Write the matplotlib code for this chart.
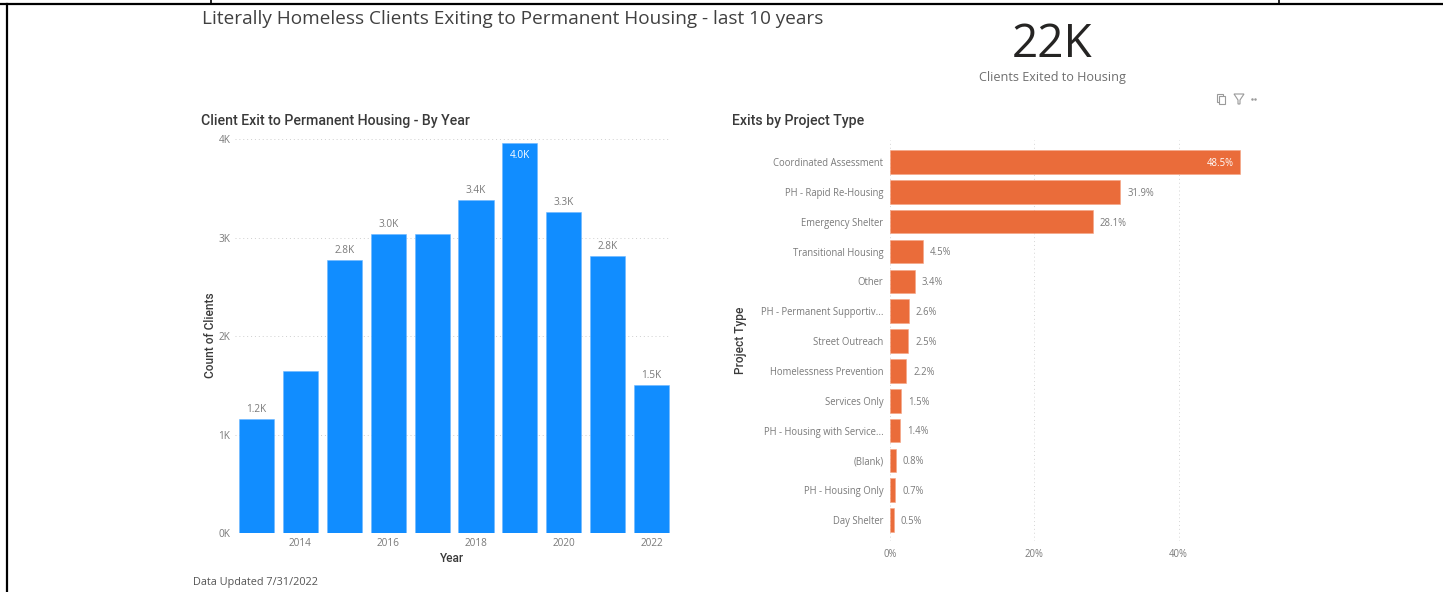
import matplotlib
matplotlib.use("Agg")
import matplotlib.pyplot as plt
from matplotlib.patches import Polygon, Rectangle

years = [2013, 2014, 2015, 2016, 2017, 2018, 2019, 2020, 2021, 2022]
clients = [1155, 1646, 2775, 3040, 3040, 3380, 3960, 3260, 2810, 1500]
year_labels = ["1.2K", "", "2.8K", "3.0K", "", "3.4K", "4.0K", "3.3K", "2.8K", "1.5K"]
year_ticks = [2014, 2016, 2018, 2020, 2022]
client_ticks = [0, 1000, 2000, 3000, 4000]
client_tick_labels = ["0K", "1K", "2K", "3K", "4K"]

projects = ["Coordinated Assessment", "PH - Rapid Re-Housing", "Emergency Shelter",
            "Transitional Housing", "Other", "PH - Permanent Supportiv...", "Street Outreach",
            "Homelessness Prevention", "Services Only", "PH - Housing with Service...",
            "(Blank)", "PH - Housing Only", "Day Shelter"]
shares = [48.5, 31.9, 28.1, 4.5, 3.4, 2.6, 2.5, 2.2, 1.5, 1.4, 0.8, 0.7, 0.5]
share_ticks = [0, 20, 40]

W, H = 1443, 592
BLUE = "#118DFF"
ORANGE = "#EA6C3A"
GREY = "#7a7a7a"
DARK = "#3a3a3a"
HEAD = ["Roboto", "DejaVu Sans"]

plt.rcParams["font.family"] = ["Open Sans", "DejaVu Sans"]


def px_axes(fig, left, top, right, bottom):
    return fig.add_axes([left / W, 1 - bottom / H, (right - left) / W, (bottom - top) / H])


fig = plt.figure(figsize=(W / 100, H / 100), dpi=100, facecolor="white")

# overlay in pixel coordinates for the frame and the little icons
bg = fig.add_axes([0, 0, 1, 1])
bg.set_xlim(0, W)
bg.set_ylim(H, 0)
bg.axis("off")
bg.plot([0, W], [4, 4], color="black", lw=1.6)
bg.plot([7, 7], [4, H], color="black", lw=1.6)
bg.plot([211, 211], [0, 4], color="black", lw=1.2)
bg.plot([1279, 1279], [0, 4], color="black", lw=1.2)
bg.add_patch(Rectangle((1217, 94), 6, 8, fill=False, ec="#9a9a9a", lw=0.8))
bg.add_patch(Rectangle((1219, 96), 6, 8, fc="white", ec="#9a9a9a", lw=0.8))
bg.add_patch(Polygon([(1234, 94), (1244, 94), (1240, 100), (1240, 104), (1238, 104), (1238, 100)],
                     fill=False, ec="#9a9a9a", lw=0.8))
bg.plot([1252, 1255], [98.5, 98.5], ls="none", marker="o", ms=0.8, color="#9a9a9a")

# bars by year
ax1 = px_axes(fig, 234.6, 120, 670, 533)
ax1.bar(years, clients, width=0.8, color=BLUE, edgecolor="#6db8ff", linewidth=0.4, zorder=3)
ax1.set_xlim(2012.5, 2022.42)
ax1.set_ylim(0, 4197)
ax1.set_yticks(client_ticks)
ax1.set_yticklabels(client_tick_labels)
ax1.set_xticks(year_ticks)
ax1.tick_params(length=0, labelsize=7.2, labelcolor=GREY)
ax1.tick_params(axis="x", pad=3.6)
ax1.tick_params(axis="y", pad=3)
ax1.grid(axis="y", color="#cfcfcf", lw=0.7, ls=(0, (1, 3)), zorder=0)
for s in ax1.spines.values():
    s.set_visible(False)
for y, c, lab in zip(years, clients, year_labels):
    if not lab:
        continue
    if c == max(clients):
        ax1.annotate(lab, (y, c), xytext=(0, -13), textcoords="offset points", ha="center",
                     va="bottom", fontsize=7.2, color="white", zorder=4)
    else:
        ax1.annotate(lab, (y, c), xytext=(0, 3), textcoords="offset points", ha="center",
                     va="bottom", fontsize=7.2, color=GREY, zorder=4)
ax1.set_xlabel("Year", fontsize=8.6, color=DARK, fontweight="medium", family=HEAD, labelpad=2.5)
ax1.set_ylabel("Count of Clients", fontsize=8.6, color=DARK, fontweight="medium", family=HEAD,
               labelpad=0.8, y=0.479)

# bars by project type
ax2 = px_axes(fig, 890.2, 140, 1260, 541)
ypos = list(range(len(projects)))
ax2.barh(ypos, shares, height=0.79, color=ORANGE, edgecolor="#f5a483", linewidth=0.4, zorder=3)
ax2.set_xlim(0, 51.3)
ax2.set_ylim(12.7, -0.737)
ax2.set_yticks(ypos)
ax2.set_yticklabels(projects)
ax2.set_xticks(share_ticks)
ax2.set_xticklabels([f"{t}%" for t in share_ticks])
ax2.tick_params(length=0, labelsize=6.85, labelcolor=GREY)
ax2.tick_params(axis="y", pad=5)
ax2.tick_params(axis="x", pad=5.8)
ax2.grid(axis="x", color="#d5d5d5", lw=0.7, ls=(0, (1, 3)), zorder=0)
for s in ax2.spines.values():
    s.set_visible(False)
for i, v in enumerate(shares):
    if v == max(shares):
        ax2.annotate(f"{v}%", (v, i), xytext=(-4.2, -1), textcoords="offset points", ha="right",
                     va="center", fontsize=6.85, color="white", zorder=4)
    else:
        ax2.annotate(f"{v}%", (v, i), xytext=(5, -1), textcoords="offset points", ha="left",
                     va="center", fontsize=6.85, color=GREY, zorder=4)
ax2.set_ylabel("Project Type", fontsize=8.6, color=DARK, fontweight="medium", family=HEAD, labelpad=10)

# titles and card
fig.text(202 / W, 1 - 19 / H, "Literally Homeless Clients Exiting to Permanent Housing - last 10 years",
         fontsize=13.7, color="#404040", va="center", ha="left")
fig.text(201 / W, 1 - 121 / H, "Client Exit to Permanent Housing - By Year", fontsize=10.2,
         color=DARK, va="center", ha="left", fontweight="medium", family=HEAD)
fig.text(732 / W, 1 - 121 / H, "Exits by Project Type", fontsize=10.2, color=DARK, va="center",
         ha="left", fontweight="medium", family=HEAD)
fig.text(1052 / W, 1 - 45 / H, "22K", fontsize=33, color="#252423", va="center", ha="center")
fig.text(1052 / W, 1 - 78 / H, "Clients Exited to Housing", fontsize=9.1, color="#6f6f6f",
         va="center", ha="center")
fig.text(193 / W, 1 - 582 / H, "Data Updated 7/31/2022", fontsize=7.8, color="#555555",
         va="center", ha="left")

fig.savefig("out.png", dpi=100)
